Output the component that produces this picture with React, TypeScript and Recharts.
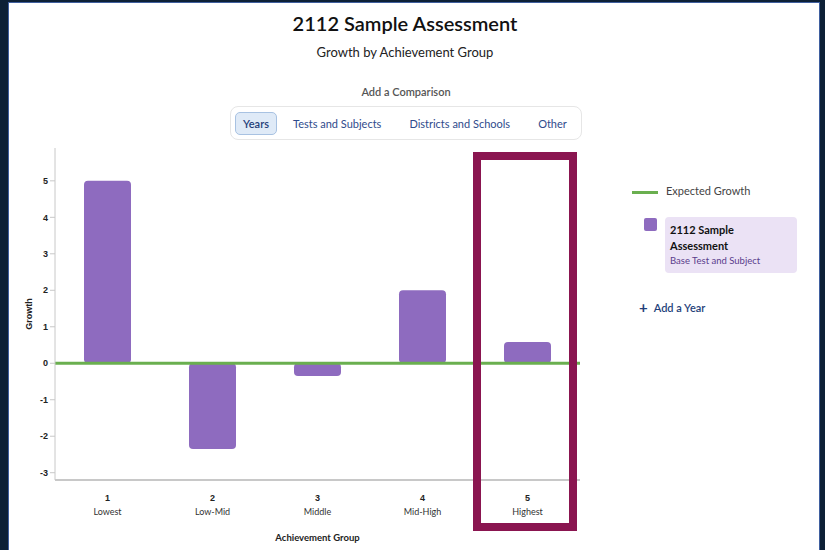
import { BarChart, Bar, XAxis, YAxis, ReferenceLine } from 'recharts';

const groupNumbers = ['1', '2', '3', '4', '5'];
const groupNames = ['Lowest', 'Low-Mid', 'Middle', 'Mid-High', 'Highest'];
const growthValues = [5.0, -2.35, -0.35, 2.0, 0.58];
const expectedGrowth = 0;
const yTicks = [-3, -2, -1, 0, 1, 2, 3, 4, 5];
const comparisonTabs = ['Years', 'Tests and Subjects', 'Districts and Schools', 'Other'];

const data = groupNumbers.map((n, i) => ({ num: n, name: groupNames[i], growth: growthValues[i] }));

const PURPLE = '#8e6bbf';
const GREEN = '#6aaf4f';
const NAVY = '#1f3f7a';

function GroupTick(props: any) {
  const { x, y, payload, index } = props;
  return (
    <g transform={`translate(${x},${y})`}>
      <text x={0} y={13} textAnchor="middle" fontSize={9} fontWeight={700} fill="#222" fontFamily="Liberation Sans, Arial">
        {payload.value}
      </text>
      <text x={0} y={27} textAnchor="middle" fontSize={9} fill="#333" fontFamily="Lato, sans-serif">
        {groupNames[index]}
      </text>
    </g>
  );
}

export default function App() {
  return (
    <div style={{ position: 'fixed', left: 0, top: 0, width: 825, height: 550, background: '#0d2036', overflow: 'hidden' }}>
      <div
        style={{
          position: 'absolute', left: 8, top: 2, width: 810, height: 560, background: '#fff',
          borderLeft: '1px solid #3f5f9f', borderRight: '1px solid #3f5f9f', borderTop: '1px solid #3f5f9f',
        }}
      />
      <div style={{ position: 'absolute', left: 0, width: 810, top: 11, textAlign: 'center', fontFamily: 'Lato, sans-serif', fontSize: 20, fontWeight: 600, color: '#111' }}>
        2112 Sample Assessment
      </div>
      <div style={{ position: 'absolute', left: 0, width: 810, top: 44, textAlign: 'center', fontFamily: 'Lato, sans-serif', fontSize: 13, color: '#222' }}>
        Growth by Achievement Group
      </div>
      <div style={{ position: 'absolute', left: 0, width: 812, top: 85, textAlign: 'center', fontFamily: 'Lato, sans-serif', fontSize: 11, fontWeight: 600, color: '#555' }}>
        Add a Comparison
      </div>
      <div
        style={{
          position: 'absolute', left: 230, top: 106, width: 352, height: 34, border: '1px solid #e6e6e6', borderRadius: 8,
          display: 'flex', alignItems: 'center', paddingLeft: 4, boxSizing: 'border-box', fontFamily: 'Lato, sans-serif', fontSize: 11,
          whiteSpace: 'nowrap',
        }}
      >
        {comparisonTabs.map((t, i) => (
          <div
            key={t}
            style={{
              padding: '4px 7px', borderRadius: 5, color: i === 0 ? NAVY : '#2f4b8c', flexShrink: 0,
              background: i === 0 ? '#dfeaf7' : 'transparent', border: i === 0 ? '1px solid #a8c2e2' : '1px solid transparent',
              fontWeight: i === 0 ? 600 : 400, marginRight: i === 0 ? 4 : 8, marginLeft: i === 0 ? 0 : 4,
            }}
          >
            {t}
          </div>
        ))}
      </div>

      <div style={{ position: 'absolute', left: 0, top: 0 }}>
        <BarChart width={825} height={550} data={data} margin={{ top: 148, right: 245, left: 25, bottom: 30 }}>
          <XAxis
            dataKey="num"
            axisLine={{ stroke: '#c8c8c8', strokeWidth: 2 }}
            tickLine={false}
            height={40}
            interval={0}
            tick={<GroupTick />}
          />
          <YAxis
            domain={[-3.2, 5.9]}
            ticks={yTicks}
            width={30}
            axisLine={{ stroke: '#c8c8c8' }}
            tickLine={{ stroke: '#c8c8c8' }}
            tickSize={5}
            tick={{ fontSize: 9, fontWeight: 700, fill: '#222', fontFamily: 'Liberation Sans, Arial' }}
            label={{ value: 'Growth', angle: -90, position: 'insideLeft', offset: 4, style: { fontSize: 9, fontWeight: 700, fill: '#222', fontFamily: 'Liberation Sans, Arial', textAnchor: 'middle' } }}
          />
          <Bar dataKey="growth" fill={PURPLE} barSize={47} radius={[4, 4, 4, 4]} isAnimationActive={false} />
          <ReferenceLine y={expectedGrowth} stroke={GREEN} strokeWidth={3} />
        </BarChart>
      </div>

      <div style={{ position: 'absolute', left: 0, width: 635, top: 532, textAlign: 'center', fontFamily: 'Lato, sans-serif', fontSize: 9.5, fontWeight: 700, color: '#222' }}>
        Achievement Group
      </div>

      <div style={{ position: 'absolute', left: 473, top: 152, width: 104, height: 379, border: '8px solid #8a1550', boxSizing: 'border-box' }} />

      <div style={{ position: 'absolute', left: 632, top: 191, width: 26, height: 3, background: GREEN }} />
      <div style={{ position: 'absolute', left: 666, top: 184, fontFamily: 'Lato, sans-serif', fontSize: 11, color: '#444' }}>Expected Growth</div>
      <div style={{ position: 'absolute', left: 644, top: 218, width: 13, height: 13, borderRadius: 2, background: PURPLE }} />
      <div
        style={{
          position: 'absolute', left: 665, top: 217, width: 132, height: 56, borderRadius: 4, background: '#ebe2f5',
          fontFamily: 'Lato, sans-serif', padding: '5px 0 0 5px', boxSizing: 'border-box',
        }}
      >
        <div style={{ fontSize: 11, fontWeight: 700, color: '#111', lineHeight: '16px' }}>2112 Sample</div>
        <div style={{ fontSize: 11, fontWeight: 700, color: '#111', lineHeight: '16px' }}>Assessment</div>
        <div style={{ fontSize: 9.5, color: '#5a3c8c', lineHeight: '13px' }}>Base Test and Subject</div>
      </div>
      <div style={{ position: 'absolute', left: 639, top: 298, fontFamily: 'Lato, sans-serif', fontSize: 11, fontWeight: 600, color: NAVY }}>
        <span style={{ fontSize: 15, fontWeight: 700, marginRight: 6, verticalAlign: -1 }}>+</span>Add a Year
      </div>
    </div>
  );
}
